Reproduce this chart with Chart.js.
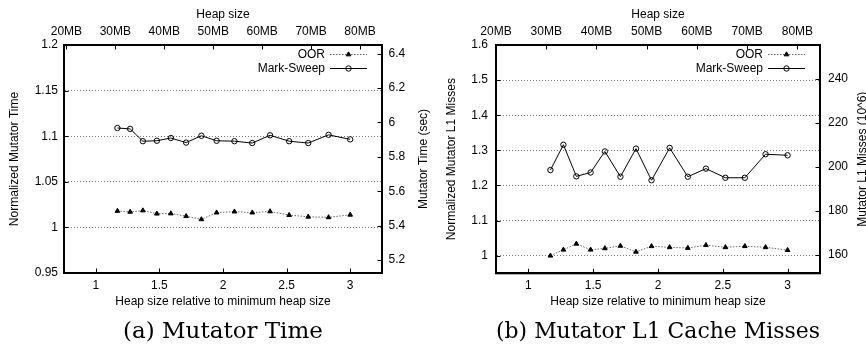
<!DOCTYPE html>
<html>
<head>
<meta charset="utf-8">
<title>Mutator time and L1 misses</title>
<script src="https://cdn.jsdelivr.net/npm/chart.js@4.4.1/dist/chart.umd.min.js"></script>
<style>
  html, body { margin: 0; padding: 0; background: #fff; }
  #wrap { position: relative; width: 866px; height: 347px; }
  canvas { position: absolute; top: 0; }
</style>
</head>
<body>
<div id="wrap">
  <canvas id="timeChart" width="433" height="347" style="left:0"></canvas>
  <canvas id="missChart" width="433" height="347" style="left:433px"></canvas>
</div>
<script>
// heap size relative to minimum heap size (same points in both panels)
const heapRatio = [1.17, 1.27, 1.37, 1.48, 1.59, 1.71, 1.83, 1.95, 2.09, 2.23, 2.37, 2.52, 2.67, 2.83, 3.0]

// (a) normalized mutator time
const timeOOR = [1.018, 1.017, 1.0185, 1.015, 1.0152, 1.0123, 1.0088, 1.0162, 1.0173, 1.0162, 1.0175, 1.0135, 1.0116, 1.011, 1.0138]
const timeMarkSweep = [1.109, 1.108, 1.0945, 1.095, 1.098, 1.093, 1.1005, 1.095, 1.0945, 1.0925, 1.101, 1.0945, 1.0925, 1.1015, 1.0965]

// (b) normalized mutator L1 misses
const missOOR = [1.0, 1.017, 1.034, 1.017, 1.021, 1.028, 1.011, 1.027, 1.024, 1.022, 1.030, 1.024, 1.027, 1.024, 1.016]
const missMarkSweep = [1.244, 1.316, 1.226, 1.237, 1.297, 1.225, 1.305, 1.215, 1.307, 1.225, 1.248, 1.222, 1.222, 1.289, 1.286]

// tick values and labels
const ratioTicks = [1, 1.5, 2, 2.5, 3]
const ratioLabels = ['1', '1.5', '2', '2.5', '3']
const heapMBTicks = [20, 30, 40, 50, 60, 70, 80]
const heapMBLabels = ['20MB', '30MB', '40MB', '50MB', '60MB', '70MB', '80MB']
const timeNormTicks = [0.95, 1, 1.05, 1.1, 1.15, 1.2]
const timeNormLabels = ['0.95', '1', '1.05', '1.1', '1.15', '1.2']
const timeSecTicks = [5.2, 5.4, 5.6, 5.8, 6, 6.2, 6.4]
const timeSecLabels = ['5.2', '5.4', '5.6', '5.8', '6', '6.2', '6.4']
const missNormTicks = [1, 1.1, 1.2, 1.3, 1.4, 1.5, 1.6]
const missNormLabels = ['1', '1.1', '1.2', '1.3', '1.4', '1.5', '1.6']
const missAbsTicks = [160, 180, 200, 220, 240]
const missAbsLabels = ['160', '180', '200', '220', '240']

const SANS = "'Liberation Sans', Arial, sans-serif"
Chart.defaults.font.family = SANS
Chart.defaults.font.size = 12
Chart.defaults.color = '#000'

// gnuplot-ish extras: inward ticks, frame, key, rotated right-axis title
const gnuplotLook = {
  id: 'gnuplotLook',
  afterDatasetsDraw(chart, args, opts) {
    const ctx = chart.ctx
    const a = chart.chartArea
    ctx.save()
    ctx.strokeStyle = '#000'
    ctx.lineWidth = 1
    const len = 4.5
    Object.values(chart.scales).forEach(s => {
      s.ticks.forEach(t => {
        const p = Math.round(s.getPixelForValue(t.value)) + 0.5
        ctx.beginPath()
        if (s.position === 'bottom') { ctx.moveTo(p, a.bottom); ctx.lineTo(p, a.bottom - len) }
        else if (s.position === 'top') { ctx.moveTo(p, a.top); ctx.lineTo(p, a.top + len) }
        else if (s.position === 'left') { ctx.moveTo(a.left, p); ctx.lineTo(a.left + len, p) }
        else { ctx.moveTo(a.right, p); ctx.lineTo(a.right - len, p) }
        ctx.stroke()
      })
    })

    // frame
    ctx.lineWidth = 2
    ctx.strokeRect(a.left, a.top, a.right - a.left, a.bottom - a.top)

    // key
    const k = opts.key
    ctx.font = '12px ' + SANS
    ctx.textAlign = 'right'
    ctx.textBaseline = 'middle'
    chart.data.datasets.forEach((ds, i) => {
      const y = a.top + k.top + i * k.step
      const x1 = a.right - k.lineFrom, x2 = a.right - k.lineTo
      ctx.fillStyle = '#000'
      ctx.fillText(ds.label, a.right - k.textRight, y)
      ctx.setLineDash(ds.borderDash || [])
      ctx.strokeStyle = ds.borderColor
      ctx.lineWidth = ds.borderWidth
      ctx.beginPath(); ctx.moveTo(x1, y); ctx.lineTo(x2, y); ctx.stroke()
      ctx.setLineDash([])
      const mx = (x1 + x2) / 2
      ctx.fillStyle = ds.pointBackgroundColor
      ctx.strokeStyle = ds.pointBorderColor
      ctx.lineWidth = ds.pointBorderWidth
      Chart.helpers.drawPoint(ctx, { pointStyle: ds.pointStyle, radius: ds.pointRadius, borderWidth: ds.pointBorderWidth, rotation: 0 }, mx, y)
    })

    // right axis title, reading bottom to top like gnuplot's y2label
    ctx.fillStyle = '#000'
    ctx.textAlign = 'center'
    ctx.translate(opts.rightTitleX, (a.top + a.bottom) / 2)
    ctx.rotate(-Math.PI / 2)
    ctx.fillText(opts.rightTitle, 0, 0)
    ctx.restore()
  }
}

function fixed(values, labels, extra) {
  const ticks = Object.assign({ autoSkip: false, maxRotation: 0, callback: (v, i) => labels[i] }, extra.ticks || {})
  return Object.assign({}, extra, {
    type: 'linear',
    afterBuildTicks: axis => { axis.ticks = values.map(v => ({ value: v })) },
    ticks: ticks
  })
}

function panel(id, cfg) {
  const mkData = ys => heapRatio.map((x, i) => ({ x: x, y: ys[i] }))
  return new Chart(document.getElementById(id), {
    type: 'line',
    data: {
      datasets: [{
        label: 'OOR',
        data: mkData(cfg.oor),
        borderColor: '#666',
        borderWidth: 1,
        borderDash: [1.5, 1.5],
        pointStyle: 'triangle',
        pointRadius: 2.7,
        pointBackgroundColor: '#000',
        pointBorderColor: '#000',
        pointBorderWidth: 1,
        tension: 0
      }, {
        label: 'Mark-Sweep',
        data: mkData(cfg.ms),
        borderColor: '#000',
        borderWidth: 1,
        pointStyle: 'circle',
        pointRadius: 2.7,
        pointBackgroundColor: 'rgba(0,0,0,0)',
        pointBorderColor: '#000',
        pointBorderWidth: 1,
        tension: 0
      }]
    },
    options: {
      responsive: false,
      animation: false,
      devicePixelRatio: 1,
      events: [],
      layout: { padding: 0, autoPadding: false },
      scales: {
        x: fixed(ratioTicks, ratioLabels, {
          position: 'bottom', min: 0.75, max: 3.25,
          afterFit: s => { s.height = cfg.xHeight },
          grid: { display: false, drawTicks: false },
          border: { display: true, color: '#000', width: 2 },
          ticks: { padding: 5.5 },
          title: { display: true, text: 'Heap size relative to minimum heap size', padding: { top: 0, bottom: 9.3 } }
        }),
        x2: fixed(heapMBTicks, heapMBLabels, {
          axis: 'x', position: 'top', min: cfg.mbMin, max: cfg.mbMax,
          afterFit: s => { s.height = 45 },
          grid: { display: false, drawTicks: false },
          border: { display: true, color: '#000', width: 2 },
          ticks: { padding: 5.8 },
          title: { display: true, text: 'Heap size', padding: { top: 7.8, bottom: 0 } }
        }),
        y: fixed(cfg.yTicks, cfg.yLabels, {
          position: 'left', min: cfg.yMin, max: cfg.yMax,
          afterFit: s => { s.width = cfg.leftW },
          grid: { display: true, drawTicks: false, color: '#777', lineWidth: 1 },
          border: { display: true, color: '#000', width: 2, dash: [1, 2] },
          ticks: { padding: cfg.yPad },
          title: { display: true, text: cfg.yTitle, padding: { top: cfg.yTitlePad, bottom: 0 } }
        }),
        y2: fixed(cfg.y2Ticks, cfg.y2Labels, {
          axis: 'y', position: 'right', min: cfg.y2Min, max: cfg.y2Max,
          afterFit: s => { s.width = cfg.rightW },
          grid: { display: false, drawTicks: false },
          border: { display: true, color: '#000', width: 2 },
          ticks: { padding: cfg.y2Pad }
        })
      },
      plugins: {
        legend: { display: false },
        tooltip: { enabled: false },
        title: {
          display: true,
          text: cfg.caption,
          position: 'bottom',
          fullSize: false,
          color: '#000',
          font: { family: "'DejaVu Serif', serif", size: 23, weight: 'normal' },
          padding: { top: 0, bottom: 1 }
        },
        gnuplotLook: {
          key: { textRight: 57, lineFrom: 52, lineTo: 15, top: 9.5, step: 14 },
          rightTitle: cfg.y2Title,
          rightTitleX: cfg.y2TitleX
        }
      }
    },
    plugins: [gnuplotLook]
  })
}

panel('timeChart', {
  oor: timeOOR, ms: timeMarkSweep,
  caption: '(a) Mutator Time',
  xHeight: 45.4, mbMin: 19.5, mbMax: 84.5,
  yTicks: timeNormTicks, yLabels: timeNormLabels, yMin: 0.95, yMax: 1.2,
  yTitle: 'Normalized Mutator Time', yTitlePad: 7.8, leftW: 64, yPad: 6,
  y2Ticks: timeSecTicks, y2Labels: timeSecLabels, y2Min: 5.125, y2Max: 6.45,
  y2Title: 'Mutator Time (sec)', y2TitleX: 423.5, rightW: 51, y2Pad: 6.5
})

panel('missChart', {
  oor: missOOR, ms: missMarkSweep,
  caption: '(b) Mutator L1 Cache Misses',
  xHeight: 45.1, mbMin: 20, mbMax: 84.5,
  yTicks: missNormTicks, yLabels: missNormLabels, yMin: 0.95, yMax: 1.6,
  yTitle: 'Normalized Mutator L1 Misses', yTitlePad: 11.8, leftW: 63, yPad: 8,
  y2Ticks: missAbsTicks, y2Labels: missAbsLabels, y2Min: 151.7, y2Max: 255.5,
  y2Title: 'Mutator L1 Misses (10^6)', y2TitleX: 429.5, rightW: 46, y2Pad: 8
})
</script>
</body>
</html>
